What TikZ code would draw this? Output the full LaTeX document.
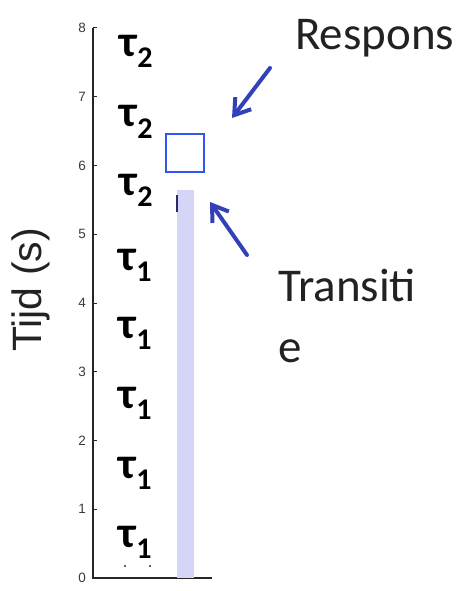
\documentclass[tikz,border=0pt]{standalone}
\usepackage{fontspec}
\setmainfont{Carlito}
\newfontfamily\axisfont{Liberation Sans}
\usetikzlibrary{arrows.meta, positioning}
\definecolor{barfill}{HTML}{D5D5F8}
\definecolor{boxblue}{HTML}{2F55F5}
\definecolor{arrowblue}{HTML}{3341B8}
\definecolor{inkdark}{HTML}{222222}
\definecolor{ticktext}{HTML}{3A3A3A}
\definecolor{barmark}{HTML}{2A2A66}

\newcommand{\tauLabel}[1]{\textbf{τ}\raisebox{-11pt}{\fontsize{30}{30}\selectfont\textbf{#1}}}

\begin{document}
\begin{tikzpicture}[x=1pt, y=-1pt,
  taulabel/.style={anchor=base west, inner sep=0pt, font=\fontsize{44}{44}\selectfont, text=black},
  ticklabel/.style={anchor=east, inner sep=0pt, font=\axisfont\fontsize{13.5}{14}\selectfont, text=ticktext},
  callout/.style={anchor=base west, inner sep=0pt, font=\fontsize{47}{55}\selectfont, text=inkdark, align=left},
  axisline/.style={line width=1.5pt, color=black!85},
  respframe/.style={draw, color=boxblue, line width=1.5pt, inner sep=0pt, minimum size=38pt},
  arr/.style={-{Straight Barb[length=15pt, width=20pt]}, line width=4pt, color=arrowblue, line cap=round}
]
  \useasboundingbox (0,0) rectangle (459,591);

  % Axis
  \coordinate (origin) at (93,578);
  \draw[axisline] (93,28) -- (origin) -- (212,578);
  \foreach \k in {0,...,8} {
    \draw[axisline, line width=1pt] (93,578-68.75*\k) -- ++(4,0);
    \node[ticklabel] (tick\k) at (86,578-68.75*\k) {\k};
  }
  \node[rotate=90, inner sep=0pt, font=\axisfont\fontsize{41}{41}\selectfont, text=inkdark]
    (ylab) at (31,290) {Tijd (s)};

  % Bar + response box
  \node[fill=barfill, inner sep=0pt, minimum width=17pt, minimum height=388pt,
        anchor=south west] (bar) at (origin -| 177,0) {};
  \draw[line width=2pt, color=barmark] ([yshift=-5pt]bar.north west) -- ++(0,17);
  \node[respframe, anchor=north west] (respbox) at (165,133) {};

  % Tau labels
  \node[taulabel] (tauA) at (119,57) {\tauLabel{2}};
  \node[taulabel] (tauB) at (119,127) {\tauLabel{2}};
  \node[taulabel] (tauC) at (119,195) {\tauLabel{2}};
  \node[taulabel] (tauD) at (118,270) {\tauLabel{1}};
  \node[taulabel] (tauE) at (118,338) {\tauLabel{1}};
  \node[taulabel] (tauF) at (118,408) {\tauLabel{1}};
  \node[taulabel] (tauG) at (118,478) {\tauLabel{1}};
  \node[taulabel] (tauH) at (118,547) {\tauLabel{1}};
  \fill[black!80] (125,566) circle (1.2pt) (150,566) circle (1.2pt);

  % Callouts
  \node[callout] (resp) at (295,50) {Respons};
  \node[callout] (trans) at (278,362) {Transiti\\[6pt]e};

  \coordinate (respTail) at (270,68);
  \coordinate (respTip) at (232,118);
  \coordinate (transTail) at (247,255);
  \coordinate (transTip) at (210,202);
  \draw[arr] (respTail) -- (respTip);
  \draw[arr] (transTail) -- (transTip);
\end{tikzpicture}
\end{document}
